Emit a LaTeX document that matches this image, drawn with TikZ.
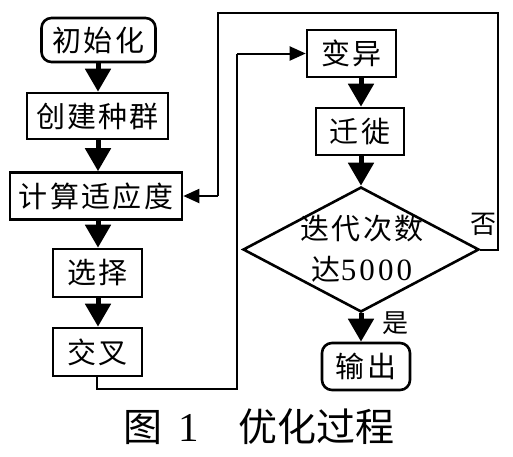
\documentclass[tikz,border=0pt]{standalone}
\usepackage{fontspec}
\newfontfamily\cjk[LetterSpace=8]{Noto Sans CJK SC}
\newfontfamily\cjkcap{Noto Sans CJK SC}
\newfontfamily\digits{Liberation Serif}
\newfontfamily\digitsp[LetterSpace=10]{Liberation Serif}
\usetikzlibrary{arrows.meta,shapes.geometric}
\begin{document}
\begin{tikzpicture}[x=1pt,y=-1pt,
  box/.style={draw, line width=2.6pt, inner sep=0pt, font=\cjk\fontsize{29}{32}\selectfont},
  rbox/.style={box, rounded corners=10pt},
  bigarrow/.style={line width=5pt, -{Triangle[width=25pt,length=23pt]}},
  thinarrow/.style={line width=2pt, -{Triangle[width=14pt,length=16pt]}},
  wire/.style={line width=2pt},
  lbl/.style={inner sep=0pt, font=\cjk\fontsize{26}{28}\selectfont}]
\path[use as bounding box, fill=white] (0,0) rectangle (513,456);

\node[rbox, minimum width=114pt, minimum height=44pt] (init) at (98.5,40) {初始化};
\node[box, minimum width=141pt, minimum height=46pt] (create) at (97.5,116) {创建种群};
\node[box, minimum width=172pt, minimum height=47pt] (calc) at (96,196) {计算适应度};
\node[box, minimum width=89pt, minimum height=48pt] (select) at (97.5,273) {选择};
\node[box, minimum width=89pt, minimum height=48pt] (cross) at (97.5,352) {交叉};

\node[box, minimum width=89pt, minimum height=47pt] (mut) at (351.5,53.5) {变异};
\node[box, minimum width=88pt, minimum height=47pt] (mig) at (360,131.5) {迁徙};
\node[diamond, draw, line width=2.6pt, inner sep=0pt, aspect=1.89,
      minimum width=236pt, minimum height=125pt] (dec) at (361,249.5) {};
\node[inner sep=0pt, align=center, font=\cjk\fontsize{29}{41}\selectfont] (dectext) at (362,249)
  {迭代次数\\达{\digitsp\fontsize{31}{41}\selectfont 5000}};
\node[rbox, minimum width=88pt, minimum height=47pt] (out) at (366,366.5) {输出};

\node[lbl] (no) at (483,224) {否};
\node[lbl] (yes) at (395,323) {是};

\node[inner sep=0pt, font=\cjkcap\fontsize{39}{42}\selectfont] (caption) at (259,427)
  {图\hspace{16pt}{\digits\fontsize{41}{42}\selectfont 1}\hspace{40pt}优化过程};

% main flow arrows
\draw[bigarrow] (init.south -| 98,0) -- (create.north -| 98,0);
\draw[bigarrow] (create.south -| 98,0) -- (calc.north -| 98,0);
\draw[bigarrow] (calc.south -| 98,0) -- (select.north -| 98,0);
\draw[bigarrow] (select.south -| 98,0) -- (cross.north -| 98,0);

\coordinate (c1) at (97,389);
\coordinate (c2) at (237,389);
\coordinate (c3) at (237,53.5);
\draw[wire] (cross.south -| c1) -- (c1) -- (c2) -- (c3);
\draw[thinarrow] (c3) -- (mut.west);

\draw[bigarrow] (mut.south -| dec.north) -- (mig.north -| dec.north);
\draw[bigarrow] (mig.south -| dec.north) -- (dec.north);
\draw[bigarrow] (dec.south) -- (dec.south |- out.north);

\coordinate (f1) at (498,249.5);
\coordinate (f2) at (498,13);
\coordinate (f3) at (218,13);
\coordinate (f4) at (218,196);
\draw[wire] (dec.east) -- (f1) -- (f2) -- (f3) -- (f4);
\draw[thinarrow] (f4) -- (calc.east);
\end{tikzpicture}
\end{document}
